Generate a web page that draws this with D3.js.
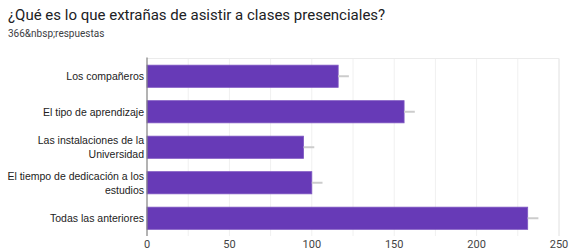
<!DOCTYPE html>
<html>
<head>
<meta charset="utf-8">
<script src="https://cdn.jsdelivr.net/npm/d3@7"></script>
<style>
  body { margin: 0; background: #fff; }
  svg { display: block; font-family: Roboto, Arial, sans-serif; }
</style>
</head>
<body>
<div id="chart"></div>
<script>
// data
const title = "¿Qué es lo que extrañas de asistir a clases presenciales?";
const subtitle = "366&nbsp;respuestas";
const categories = [
  ["Los compañeros"],
  ["El tipo de aprendizaje"],
  ["Las instalaciones de la", "Universidad"],
  ["El tiempo de dedicación a los", "estudios"],
  ["Todas las anteriores"]
];
const values = [116, 156, 95, 100, 231];
const errors = [6.5, 6.5, 6.5, 6.5, 6.5];
const xTicks = [0, 50, 100, 150, 200, 250];
const gridTicks = [25, 50, 75, 100, 125, 150, 175, 200, 225, 250];

const W = 569, H = 252;
const plot = { left: 147, right: 559, top: 58.5, bottom: 236 };

const svg = d3.select("#chart").append("svg")
  .attr("width", W)
  .attr("height", H);

// titles
svg.append("text")
  .attr("x", 8).attr("y", 20)
  .style("font-size", "15px")
  .attr("fill", "#202124")
  .text(title);

svg.append("text")
  .attr("x", 8).attr("y", 37)
  .style("font-size", "10px")
  .attr("fill", "#3c4043")
  .text(subtitle);

// scales
const x = d3.scaleLinear().domain([0, 250]).range([plot.left, plot.right]);
const y = d3.scaleBand()
  .domain(d3.range(categories.length))
  .range([plot.top, plot.bottom])
  .paddingInner(0.375)
  .paddingOuter(0.1875);

// grid
svg.append("g")
  .selectAll("line")
  .data(gridTicks)
  .join("line")
  .attr("x1", d => x(d)).attr("x2", d => x(d))
  .attr("y1", plot.top).attr("y2", plot.bottom)
  .attr("stroke", d => d === 250 ? "#e0e0e0" : "#f0f0f0")
  .attr("stroke-width", 1);

svg.append("line")
  .attr("x1", plot.left).attr("x2", plot.right)
  .attr("y1", plot.top).attr("y2", plot.top)
  .attr("stroke", "#ebebeb");

// bars
svg.append("g")
  .selectAll("rect")
  .data(values)
  .join("rect")
  .attr("x", x(0))
  .attr("y", (d, i) => y(i))
  .attr("width", d => x(d) - x(0))
  .attr("height", y.bandwidth())
  .attr("fill", "#673ab7")
  .attr("stroke", "#7e57c2")
  .attr("stroke-width", 0.8);

// whiskers
svg.append("g")
  .selectAll("line")
  .data(values)
  .join("line")
  .attr("x1", d => x(d))
  .attr("x2", (d, i) => x(d + errors[i]))
  .attr("y1", (d, i) => y(i) + y.bandwidth() / 2)
  .attr("y2", (d, i) => y(i) + y.bandwidth() / 2)
  .attr("stroke", "#cccccc")
  .attr("stroke-width", 2);

// axis line at zero
svg.append("line")
  .attr("x1", x(0)).attr("x2", x(0))
  .attr("y1", plot.top - 1).attr("y2", plot.bottom)
  .attr("stroke", "#808080")
  .attr("stroke-width", 1.2);

// x tick labels
svg.append("g")
  .selectAll("text")
  .data(xTicks)
  .join("text")
  .attr("x", d => x(d))
  .attr("y", 248)
  .attr("text-anchor", "middle")
  .style("font-size", "11px")
  .attr("fill", "#444")
  .text(d => d);

// category labels
const lab = svg.append("g")
  .selectAll("text")
  .data(categories)
  .join("text")
  .attr("text-anchor", "end")
  .style("font-family", "'Liberation Sans', Arial, sans-serif")
  .style("font-size", "10.5px")
  .attr("fill", "#222");

lab.each(function(lines, i) {
  const cy = y(i) + y.bandwidth() / 2;
  const lh = 14;
  const y0 = cy - (lines.length - 1) * lh / 2 + 3.8;
  d3.select(this).selectAll("tspan")
    .data(lines)
    .join("tspan")
    .attr("x", plot.left - 3)
    .attr("y", (d, j) => y0 + j * lh)
    .text(d => d);
});
</script>
</body>
</html>
